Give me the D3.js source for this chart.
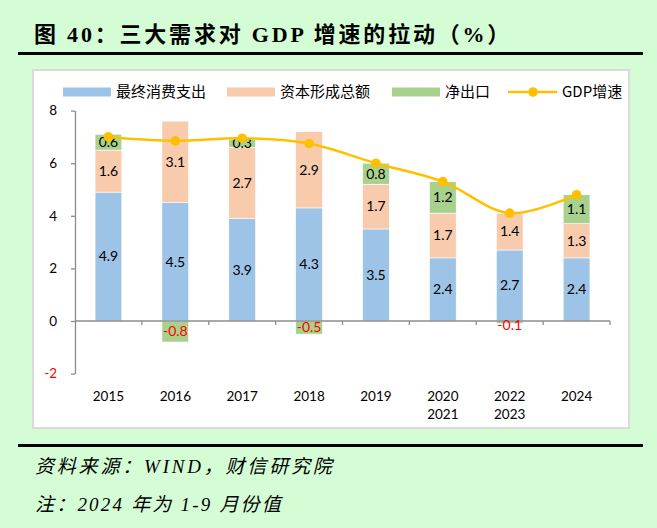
<!DOCTYPE html>
<html><head><meta charset="utf-8">
<script src="https://cdn.jsdelivr.net/npm/d3@7"></script>
<style>
html,body{margin:0;padding:0;background:#d5fdd5;}
svg{display:block;}
</style></head>
<body>
<svg id="c" width="657" height="528"></svg>
<script>
const categories = [["2015"],["2016"],["2017"],["2018"],["2019"],["2020","2021"],["2022","2023"],["2024"]];
const consumption = [4.9, 4.5, 3.9, 4.3, 3.5, 2.4, 2.7, 2.4];
const capital = [1.6, 3.1, 2.7, 2.9, 1.7, 1.7, 1.4, 1.3];
const netExport = [0.6, -0.8, 0.3, -0.5, 0.8, 1.2, -0.1, 1.1];
const gdp = [7.0, 6.85, 6.95, 6.75, 6.0, 5.3, 4.1, 4.8];
const yTicks = [-2, 0, 2, 4, 6, 8];
const seriesNames = ["最终消费支出", "资本形成总额", "净出口", "GDP增速"];
const colors = ["#9dc3e6", "#f8cbad", "#a9d18e", "#ffc000"];

const svg = d3.select("#c");
const cjk = "'Noto Sans CJK SC', sans-serif";
const numFont = "Lato, 'Noto Sans', sans-serif";
const fmt1 = v => d3.format(".1f")(v).replace("\u2212", "-");
const fmt0 = v => String(v);

// Title
svg.append("text").attr("x", 34).attr("y", 42)
  .attr("font-family", "'Liberation Serif', 'Noto Sans CJK SC', serif")
  .attr("font-weight", "bold").attr("font-size", 22).attr("letter-spacing", 2.8).attr("fill", "#000")
  .text("图 40：三大需求对 GDP 增速的拉动（%）");
svg.append("rect").attr("x", 18).attr("y", 52).attr("width", 625).attr("height", 3).attr("fill", "#000");

// Panel
svg.append("rect").attr("x", 33).attr("y", 70).attr("width", 596).attr("height", 358)
  .attr("fill", "#fff").attr("stroke", "#dadada").attr("stroke-width", 2);

// Footer
svg.append("rect").attr("x", 18).attr("y", 444).attr("width", 625).attr("height", 3).attr("fill", "#000");
svg.append("text").attr("x", 35).attr("y", 473)
  .attr("font-family", "'Liberation Serif', 'Noto Sans CJK SC', serif").attr("font-style", "italic")
  .attr("font-size", 19).attr("letter-spacing", 2.8).attr("fill", "#000").text("资料来源：WIND，财信研究院");
svg.append("text").attr("x", 35).attr("y", 511)
  .attr("font-family", "'Liberation Serif', 'Noto Sans CJK SC', serif").attr("font-style", "italic")
  .attr("font-size", 19).attr("letter-spacing", 2.2).attr("fill", "#000").text("注：2024 年为 1-9 月份值");

// Scales
const x = d3.scaleBand().domain(d3.range(categories.length)).range([75, 610]).paddingInner(0.6).paddingOuter(0.3);
const y = d3.scaleLinear().domain([-2, 8]).range([373.6, 110.6]);

// Axes
const yAxis = svg.append("g").attr("transform", "translate(75,0)")
  .call(d3.axisLeft(y).tickValues(yTicks).tickSize(4).tickSizeOuter(0).tickFormat(fmt0));
yAxis.select(".domain").attr("stroke", "#8c8c8c").attr("stroke-width", 1.3);
yAxis.selectAll(".tick line").attr("stroke", "#8c8c8c").attr("stroke-width", 1.3);
yAxis.selectAll(".tick text").attr("x", -18).attr("font-family", numFont).attr("font-size", 13.5)
  .attr("fill", d => d < 0 ? "#ff0000" : "#000");

// Bars
const stacks = consumption.map((c, i) => {
  const segs = [];
  let pos = 0, neg = 0;
  [consumption[i], capital[i], netExport[i]].forEach((v, k) => {
    if (v >= 0) { segs.push({k, v, y0: pos, y1: pos + v, i}); pos += v; }
    else { segs.push({k, v, y0: neg + v, y1: neg, i}); neg += v; }
  });
  return segs;
}).flat();

svg.append("g").selectAll("rect").data(stacks).join("rect")
  .attr("x", d => x(d.i)).attr("width", x.bandwidth())
  .attr("y", d => y(d.y1)).attr("height", d => y(d.y0) - y(d.y1))
  .attr("fill", d => colors[d.k]).attr("stroke", "#fff").attr("stroke-width", 0.6);

// X axis at zero
const xAxisG = svg.append("g").attr("transform", `translate(0,${y(0)})`);
xAxisG.append("line").attr("x1", 75).attr("x2", 610).attr("y1", 0).attr("y2", 0)
  .attr("stroke", "#8c8c8c").attr("stroke-width", 1.3);
const step = x.step();
const bounds = d3.range(categories.length + 1).map(i => 75 + i * step);
xAxisG.selectAll("line.t").data(bounds.slice(1)).join("line").attr("class", "t")
  .attr("x1", d => d).attr("x2", d => d).attr("y1", 0).attr("y2", 4)
  .attr("stroke", "#8c8c8c").attr("stroke-width", 1.3);

// Category labels
const catG = svg.append("g");
categories.forEach((lines, i) => {
  lines.forEach((t, j) => {
    catG.append("text").attr("x", x(i) + x.bandwidth() / 2).attr("y", 401 + j * 18)
      .attr("text-anchor", "middle").attr("font-family", numFont).attr("font-size", 13.5)
      .attr("fill", "#000").text(t);
  });
});

// Segment labels
svg.append("g").selectAll("text").data(stacks).join("text")
  .attr("x", d => x(d.i) + x.bandwidth() / 2)
  .attr("y", d => (y(d.y0) + y(d.y1)) / 2 + (d.v === -0.1 ? 3 : 0))
  .attr("dy", "0.35em").attr("text-anchor", "middle")
  .attr("font-family", numFont).attr("font-size", 14)
  .attr("fill", d => d.v < 0 ? "#ff0000" : "#000")
  .text(d => fmt1(d.v));

// GDP line
const line = d3.line().x((d, i) => x(i) + x.bandwidth() / 2).y(d => y(d)).curve(d3.curveCatmullRom.alpha(0.5));
svg.append("path").datum(gdp).attr("d", line).attr("fill", "none")
  .attr("stroke", colors[3]).attr("stroke-width", 2.5);
svg.append("g").selectAll("circle").data(gdp).join("circle")
  .attr("cx", (d, i) => x(i) + x.bandwidth() / 2).attr("cy", d => y(d)).attr("r", 4.8)
  .attr("fill", colors[3]);

// Legend
const legend = svg.append("g");
const legX = [63, 227, 392];
[0, 1, 2].forEach(k => {
  legend.append("rect").attr("x", legX[k]).attr("y", 87.5).attr("width", 48).attr("height", 9).attr("fill", colors[k]);
  legend.append("text").attr("x", legX[k] + 53).attr("y", 92).attr("dy", "0.36em")
    .attr("font-family", cjk).attr("font-size", 15).attr("fill", "#000").text(seriesNames[k]);
});
legend.append("line").attr("x1", 508).attr("x2", 557).attr("y1", 92).attr("y2", 92)
  .attr("stroke", colors[3]).attr("stroke-width", 2.5);
legend.append("circle").attr("cx", 533).attr("cy", 92).attr("r", 4.8).attr("fill", colors[3]);
legend.append("text").attr("x", 562).attr("y", 92).attr("dy", "0.36em")
  .attr("font-family", cjk).attr("font-size", 15).attr("fill", "#000").text(seriesNames[3]);
</script>
</body></html>
